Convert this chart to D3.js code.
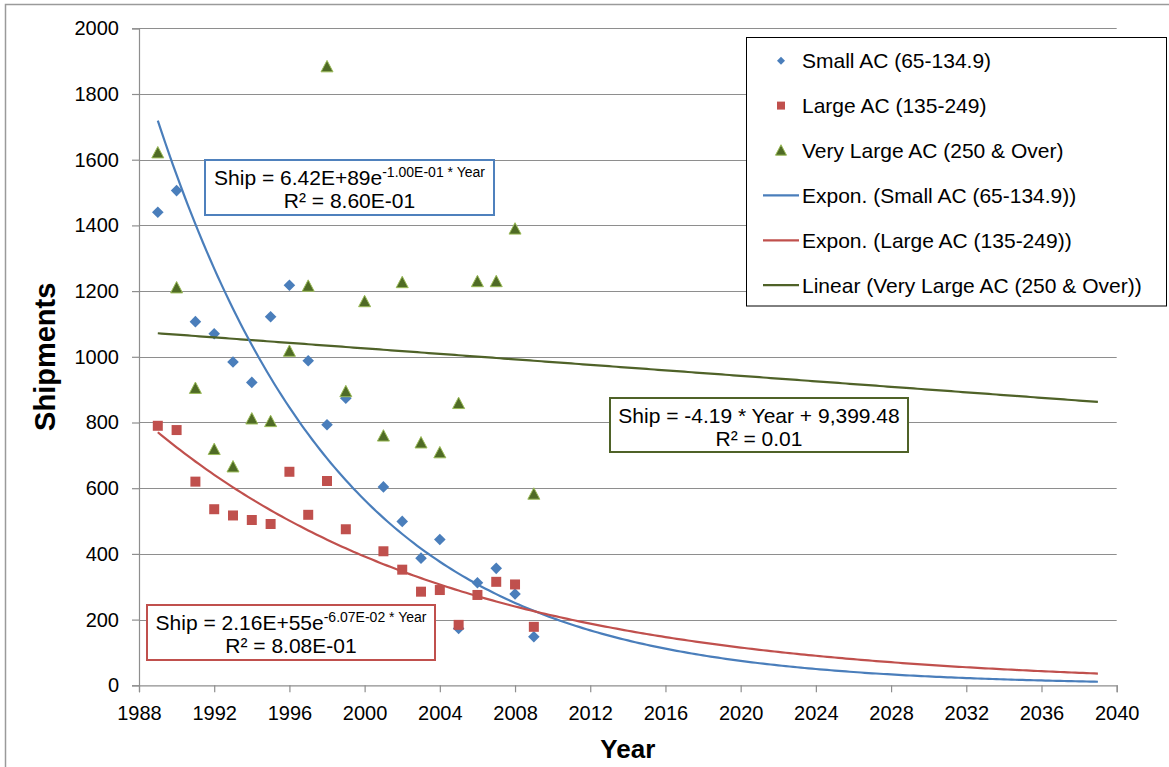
<!DOCTYPE html>
<html>
<head>
<meta charset="utf-8">
<script src="https://cdn.jsdelivr.net/npm/d3@7"></script>
<style>
  html, body { margin: 0; padding: 0; background: #fff; }
  svg { display: block; font-family: "Liberation Sans", Arial, sans-serif; }
</style>
</head>
<body>
<svg id="chart" width="1169" height="767"></svg>
<script>
// ---------------- data ----------------
const years = [1989,1990,1991,1992,1993,1994,1995,1996,1997,1998,1999,2000,2001,2002,2003,2004,2005,2006,2007,2008,2009];
const smallAC = [1440,1506,1107,1070,984,922,1122,1218,988,793,874,null,604,499,387,444,173,312,356,278,148];
const largeAC = [790,777,620,536,517,503,491,650,519,622,475,null,408,352,285,290,184,275,315,307,178];
const veryLargeAC = [1621,1210,904,718,665,811,803,1017,1215,1883,894,1168,759,1226,738,708,858,1229,1229,1389,582];
const xTicks = [1988,1992,1996,2000,2004,2008,2012,2016,2020,2024,2028,2032,2036,2040];
const yTicks = [0,200,400,600,800,1000,1200,1400,1600,1800,2000];
const trendRange = [1989, 2039];
const legendLabels = [
  "Small AC (65-134.9)", "Large AC (135-249)", "Very Large AC (250 & Over)",
  "Expon. (Small AC (65-134.9))", "Expon. (Large AC (135-249))", "Linear (Very Large AC (250 & Over))"
];
const eqSmall = ["Ship = 6.42E+89e", "-1.00E-01 * Year", "R\u00B2 = 8.60E-01"];
const eqLarge = ["Ship = 2.16E+55e", "-6.07E-02 * Year", "R\u00B2 = 8.08E-01"];
const eqVery = ["Ship = -4.19 * Year + 9,399.48", "R\u00B2 = 0.01"];

// ---------------- setup ----------------
const svg = d3.select("#chart");
const W = 1169, H = 767;
const plot = { left: 139, right: 1116.7, top: 28.3, bottom: 685.3 };
const x = d3.scaleLinear().domain([1988, 2040]).range([plot.left, plot.right]);
const y = d3.scaleLinear().domain([0, 2000]).range([plot.bottom, plot.top]);

const BLUE = "#4A7EBB", RED = "#C0504D", GREEN_FILL = "#4F6B25", GREEN_EDGE = "#9BBB59", GREEN_LINE = "#4F6228";
const GRID = "#8E8E8E";

// outer chart border
svg.append("rect").attr("x", 5.5).attr("y", 4.5).attr("width", W + 20).attr("height", H + 20)
  .attr("fill", "#fff").attr("stroke", "#9A9A9A").attr("stroke-width", 1.5);

// gridlines
svg.append("g").selectAll("line").data(yTicks.filter(d => d > 0)).join("line")
  .attr("x1", plot.left).attr("x2", plot.right)
  .attr("y1", d => Math.round(y(d)) + 0.5).attr("y2", d => Math.round(y(d)) + 0.5)
  .attr("stroke", GRID).attr("stroke-width", 1);

// axes
const yAxis = d3.axisLeft(y).tickValues(yTicks).tickSize(7).tickPadding(13).tickFormat(d3.format("d"));
const gy = svg.append("g").attr("transform", `translate(${plot.left},0)`).call(yAxis);
const xAxis = d3.axisBottom(x).tickValues(xTicks).tickSize(7).tickPadding(14).tickFormat(d3.format("d"));
const gx = svg.append("g").attr("transform", `translate(0,${plot.bottom})`).call(xAxis);
[gx, gy].forEach(g => {
  g.select(".domain").attr("stroke", GRID).attr("stroke-width", 1.2);
  g.selectAll(".tick line").attr("stroke", GRID).attr("stroke-width", 1.2);
  g.selectAll(".tick text").attr("fill", "#000").style("font-size", "20px")
    .style("font-family", '"Liberation Sans", Arial, sans-serif');
});

// axis titles
svg.append("text").attr("x", x(2014)).attr("y", 758).attr("text-anchor", "middle")
  .style("font-size", "26px").style("font-weight", "bold").text("Year");
svg.append("text").attr("transform", `translate(55,${(plot.top + plot.bottom) / 2}) rotate(-90)`)
  .attr("text-anchor", "middle").style("font-size", "29px").style("font-weight", "bold").text("Shipments");

// ---------------- trendlines ----------------
function pairs(vals) { return years.map((yr, i) => [yr, vals[i]]).filter(p => p[1] != null); }
function expFit(vals) {
  const p = pairs(vals);
  const mx = d3.mean(p, d => d[0]), my = d3.mean(p, d => Math.log(d[1]));
  const sxy = d3.sum(p, d => (d[0] - mx) * (Math.log(d[1]) - my));
  const sxx = d3.sum(p, d => (d[0] - mx) ** 2);
  const b = sxy / sxx;
  return t => Math.exp(my + b * (t - mx));
}
function linFit(vals) {
  const p = pairs(vals);
  const mx = d3.mean(p, d => d[0]), my = d3.mean(p, d => d[1]);
  const sxy = d3.sum(p, d => (d[0] - mx) * (d[1] - my));
  const sxx = d3.sum(p, d => (d[0] - mx) ** 2);
  const b = sxy / sxx;
  return t => my + b * (t - mx);
}
const fSmall = expFit(smallAC), fLarge = expFit(largeAC), fVery = linFit(veryLargeAC);
const tSamples = d3.range(trendRange[0], trendRange[1] + 0.001, 0.2);
const line = d3.line().x(d => x(d[0])).y(d => y(d[1]));
function drawTrend(f, color) {
  svg.append("path").datum(tSamples.map(t => [t, f(t)]))
    .attr("d", line).attr("fill", "none").attr("stroke", color).attr("stroke-width", 2.2);
}

// ---------------- markers ----------------
function diamondPath(cx, cy, r) { return `M${cx},${cy - r}L${cx + r},${cy}L${cx},${cy + r}L${cx - r},${cy}Z`; }
function squarePath(cx, cy, r) { return `M${cx - r},${cy - r}h${2 * r}v${2 * r}h${-2 * r}Z`; }
function trianglePath(cx, cy, r) { return `M${cx},${cy - r * 1.05}L${cx + r},${cy + r * 0.85}L${cx - r},${cy + r * 0.85}Z`; }

function drawMarkers(vals, shape, r, fill, stroke) {
  svg.append("g").selectAll("path").data(pairs(vals)).join("path")
    .attr("d", d => shape(x(d[0]), y(d[1]), r))
    .attr("fill", fill).attr("stroke", stroke).attr("stroke-width", stroke === "none" ? 0 : 1);
}

drawMarkers(smallAC, diamondPath, 5.8, BLUE, "none");
drawMarkers(largeAC, squarePath, 5, RED, "none");
drawMarkers(veryLargeAC, trianglePath, 6, GREEN_FILL, GREEN_EDGE);

drawTrend(fVery, GREEN_LINE);
drawTrend(fSmall, BLUE);
drawTrend(fLarge, RED);

// ---------------- equation boxes ----------------
function eqBox(bx, by, bw, bh, color, l1, sup, l2) {
  svg.append("rect").attr("x", bx).attr("y", by).attr("width", bw).attr("height", bh)
    .attr("fill", "#fff").attr("stroke", color).attr("stroke-width", 2);
  const t = svg.append("text").attr("x", bx + bw / 2).attr("y", by + 24.5).attr("text-anchor", "middle")
    .style("font-size", "21px");
  t.append("tspan").text(l1);
  if (sup) {
    t.append("tspan").attr("dy", -8).style("font-size", "14px").text(sup);
  }
  svg.append("text").attr("x", bx + bw / 2).attr("y", by + 47.5).attr("text-anchor", "middle")
    .style("font-size", "21px").text(l2);
}
eqBox(205, 160, 289, 55, "#4F81BD", eqSmall[0], eqSmall[1], eqSmall[2]);
eqBox(147, 605, 288, 55, RED, eqLarge[0], eqLarge[1], eqLarge[2]);
eqBox(610, 398, 298, 54, GREEN_LINE, eqVery[0], null, eqVery[1]);

// ---------------- legend ----------------
const lg = svg.append("g");
lg.append("rect").attr("x", 746.5).attr("y", 37.5).attr("width", 420).attr("height", 268.5)
  .attr("fill", "#fff").attr("stroke", "#000").attr("stroke-width", 1);
const rowY = i => 60.7 + i * 44.9;
lg.append("path").attr("d", diamondPath(781, rowY(0), 4)).attr("fill", BLUE);
lg.append("path").attr("d", squarePath(781, rowY(1), 4)).attr("fill", RED);
lg.append("path").attr("d", trianglePath(781, rowY(2), 5.5)).attr("fill", GREEN_FILL).attr("stroke", GREEN_EDGE).attr("stroke-width", 1);
[BLUE, RED, GREEN_LINE].forEach((c, i) => {
  lg.append("line").attr("x1", 763).attr("x2", 799).attr("y1", rowY(3 + i)).attr("y2", rowY(3 + i))
    .attr("stroke", c).attr("stroke-width", 2.2);
});
lg.selectAll("text.lab").data(legendLabels).join("text").attr("class", "lab")
  .attr("x", 802).attr("y", (d, i) => rowY(i)).attr("dy", "0.35em")
  .style("font-size", "21px").text(d => d);
</script>
</body>
</html>
